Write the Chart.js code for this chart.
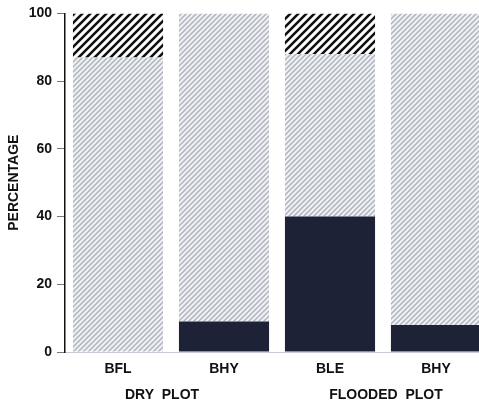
<!DOCTYPE html>
<html>
<head>
<meta charset="utf-8">
<script src="https://cdn.jsdelivr.net/npm/chart.js@4/dist/chart.umd.min.js"></script>
<style>
  html, body { margin: 0; padding: 0; background: #fff; overflow: hidden; }
  #wrap { width: 479px; height: 406px; overflow: hidden; }
</style>
</head>
<body>
<div id="wrap"><canvas id="c" width="489" height="406"></canvas></div>
<script>
'use strict';
// DATA
const categories = ['BFL', 'BHY', 'BLE', 'BHY'];
const solidPct = [0, 9, 40, 8];      // black bottom part
const lightPct = [87, 91, 48, 92];   // light hatched middle part
const darkPct = [13, 0, 12, 0];      // dark hatched top part
const groups = ['DRY  PLOT', 'FLOODED  PLOT'];
const yTicks = [0, 20, 40, 60, 80, 100];

const canvas = document.querySelector('#c');
const ctx = canvas.getContext('2d');
const FONT = '"Liberation Sans", Arial, Helvetica, sans-serif';

// HATCH PATTERNS ("/" diagonal lines)
function makeHatch(size, bg, fg, lw) {
  const tile = document.createElement('canvas');
  tile.width = tile.height = size;
  const t = tile.getContext('2d');
  t.fillStyle = bg;
  t.fillRect(0, 0, size, size);
  t.strokeStyle = fg;
  t.lineWidth = lw;
  t.beginPath();
  t.moveTo(0, size); t.lineTo(size, 0);
  t.moveTo(-size / 2, size / 2); t.lineTo(size / 2, -size / 2);
  t.moveTo(size / 2, size * 1.5); t.lineTo(size * 1.5, size / 2);
  t.stroke();
  return ctx.createPattern(tile, 'repeat');
}
const lightHatch = makeHatch(5, '#eff0f4', '#aeb2bd', 1.4);
const darkHatch = makeHatch(8, '#ffffff', '#111111', 2.6);

// GROUP LABELS UNDER THE CATEGORY LABELS
const groupLabels = {
  id: 'groupLabels',
  afterDraw(chart) {
    const x = chart.scales.x;
    const c = chart.ctx;
    c.save();
    c.font = 'bold 14px ' + FONT;
    c.fillStyle = '#111';
    c.textAlign = 'center';
    c.textBaseline = 'middle';
    const mid1 = (x.getPixelForValue(0) + x.getPixelForValue(1)) / 2 - 9;
    const mid2 = (x.getPixelForValue(2) + x.getPixelForValue(3)) / 2 + 3;
    c.fillText(groups[0], mid1, 395);
    c.fillText(groups[1], mid2, 395);
    c.restore();
  }
};

const barOpts = { barPercentage: 0.85, categoryPercentage: 1, borderWidth: 0 };

new Chart(canvas, {
  type: 'bar',
  data: {
    labels: categories,
    datasets: [
      Object.assign({ label: 'solid', data: solidPct, backgroundColor: '#1d2236' }, barOpts),
      Object.assign({ label: 'light', data: lightPct, backgroundColor: lightHatch }, barOpts),
      Object.assign({ label: 'dark', data: darkPct, backgroundColor: darkHatch }, barOpts),
    ],
  },
  options: {
    responsive: false,
    animation: false,
    layout: { padding: { top: 13, left: 0, right: 0, bottom: 0 } },
    plugins: { legend: { display: false }, tooltip: { enabled: false } },
    scales: {
      x: {
        stacked: true,
        grid: { display: false, drawTicks: false },
        border: { display: true, color: '#c8ccd4' },
        ticks: { color: '#111', font: { family: FONT, size: 14, weight: 'bold' }, padding: 9 },
        afterFit(s) { s.height = 54; },
      },
      y: {
        stacked: true,
        min: 0,
        max: 100,
        afterBuildTicks(s) { s.ticks = yTicks.map(v => ({ value: v })); },
        grid: { drawOnChartArea: false, drawTicks: true, tickLength: 8, color: '#777' },
        border: { display: true, color: '#111', width: 1.5 },
        ticks: { color: '#111', font: { family: FONT, size: 14, weight: 'bold' }, padding: 5 },
        title: {
          display: true,
          text: 'PERCENTAGE',
          color: '#111',
          font: { family: FONT, size: 14, weight: 'bold' },
          padding: { top: 6, bottom: 0 },
        },
        afterFit(s) { s.width = 65; },
      },
    },
  },
  plugins: [groupLabels],
});
</script>
</body>
</html>
